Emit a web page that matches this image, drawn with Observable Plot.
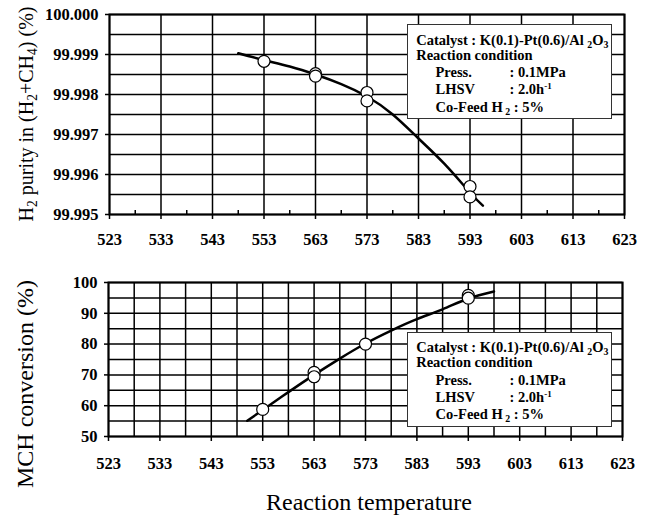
<!DOCTYPE html>
<html><head><meta charset="utf-8">
<script src="https://cdn.jsdelivr.net/npm/d3@7"></script>
<script src="https://cdn.jsdelivr.net/npm/@observablehq/plot@0.6"></script>
<style>
body{margin:0;background:#fff;}
#wrap{position:relative;width:652px;height:517px;overflow:hidden;font-family:"Liberation Serif","Times New Roman",serif;color:#000;}
#wrap svg{position:absolute;left:0;}
.legend{position:absolute;border:1.5px solid #333;background:#fff;box-sizing:border-box;font-weight:bold;font-size:14.5px;width:205px;height:95px;}
.legend .ln{position:absolute;white-space:nowrap;line-height:1;}
.legend .lab{display:inline-block;width:74px;}
.sub{position:relative;top:0.3em;font-size:0.68em;line-height:1;}
.sup{position:relative;top:-0.55em;font-size:0.62em;line-height:1;}
.ytitle{position:absolute;white-space:nowrap;line-height:1;transform:translate(-50%,-50%) rotate(-90deg);}
.xtitle{position:absolute;white-space:nowrap;line-height:1;font-size:24px;transform:translateX(-50%);}
</style>
</head><body>
<div id="wrap"></div>
<script>
// ---------- data ----------
const xMajor = [523, 533, 543, 553, 563, 573, 583, 593, 603, 613, 623];
const xMinor = [528, 538, 548, 558, 568, 578, 588, 598, 608, 618];
const xFine = [523, 528, 533, 538, 543, 548, 553, 558, 563, 568, 573, 578, 583, 588, 593, 598, 603, 608, 613, 618, 623];

// top panel: H2 purity
const yTopMajor = [99.995, 99.996, 99.997, 99.998, 99.999, 100.000];
const yTopGrid = [99.995, 99.9955, 99.996, 99.9965, 99.997, 99.9975, 99.998, 99.9985, 99.999, 99.9995, 100.000];
const tempTop = [553, 563, 563, 573, 573, 593, 593];
const purity = [99.99883, 99.99852, 99.99846, 99.99805, 99.99784, 99.99570, 99.99544];
const curveTopT = [548, 553, 558, 563, 568, 573, 578, 583, 588, 593, 595.5];
const curveTopV = [99.99903, 99.99886, 99.99870, 99.99850, 99.99826, 99.99795, 99.99750, 99.99690, 99.99627, 99.99555, 99.99522];

// bottom panel: MCH conversion
const yBotMajor = [50, 60, 70, 80, 90, 100];
const yBotGrid = [50, 55, 60, 65, 70, 75, 80, 85, 90, 95, 100];
const tempBot = [553, 563, 563, 573, 593, 593];
const conversion = [58.8, 70.8, 69.4, 80.0, 95.8, 94.9];
const curveBotT = [550, 553, 558, 563, 568, 573, 578, 583, 588, 593, 598];
const curveBotV = [55.1, 58.6, 64.4, 70.0, 75.3, 80.2, 84.4, 88.1, 91.3, 94.8, 97.1];

// ---------- build tables ----------
const ptsTop = tempTop.map((t, i) => ({t, v: purity[i]}));
const lineTop = curveTopT.map((t, i) => ({t, v: curveTopV[i]}));
const ptsBot = tempBot.map((t, i) => ({t, v: conversion[i]}));
const lineBot = curveBotT.map((t, i) => ({t, v: curveBotV[i]}));

const baseStyle = {fontFamily: "'Liberation Serif','Times New Roman',serif", fontSize: "16.5px", fontWeight: "bold", background: "transparent", overflow: "visible", color: "#000"};
const gridOpt = {stroke: "#000", strokeOpacity: 1, strokeWidth: 1.5};

const topPlot = Plot.plot({
  width: 652, height: 260,
  marginLeft: 109, marginRight: 28, marginTop: 14, marginBottom: 46,
  x: {domain: [523, 623], label: null},
  y: {domain: [99.995, 100.000], label: null},
  style: baseStyle,
  marks: [
    Plot.gridX(xMajor, gridOpt),
    Plot.gridY(yTopGrid, gridOpt),
    Plot.ruleX(xMinor, {y1: 99.995, y2: 99.9951, stroke: "#000", strokeWidth: 1.5}),
    Plot.axisX({ticks: xMajor, tickSize: 5, tickPadding: 14, tickFormat: d => String(d), strokeWidth: 1.5}),
    Plot.axisY({ticks: yTopMajor, tickSize: 4, tickPadding: 7, tickFormat: d3.format(".3f"), strokeWidth: 1.5}),
    Plot.frame({stroke: "#000", strokeWidth: 2}),
    Plot.line(lineTop, {x: "t", y: "v", curve: "natural", stroke: "#000", strokeWidth: 2.5}),
    Plot.dot(ptsTop, {x: "t", y: "v", r: 6, fill: "white", stroke: "#000", strokeWidth: 1.2})
  ]
});
topPlot.style.top = "0px";

const botPlot = Plot.plot({
  width: 652, height: 257,
  marginLeft: 108, marginRight: 30, marginTop: 22, marginBottom: 81,
  x: {domain: [523, 623], label: null},
  y: {domain: [50, 100], label: null},
  style: baseStyle,
  marks: [
    Plot.gridX(xFine, gridOpt),
    Plot.gridY(yBotGrid, gridOpt),
    Plot.axisX({ticks: xMajor, tickSize: 5, tickPadding: 16, tickFormat: d => String(d), strokeWidth: 1.5}),
    Plot.axisY({ticks: yBotMajor, tickSize: 4, tickPadding: 7, tickFormat: d => String(d), strokeWidth: 1.5}),
    Plot.frame({stroke: "#000", strokeWidth: 2}),
    Plot.line(lineBot, {x: "t", y: "v", curve: "natural", stroke: "#000", strokeWidth: 2.5}),
    Plot.dot(ptsBot, {x: "t", y: "v", r: 6, fill: "white", stroke: "#000", strokeWidth: 1.2})
  ]
});
botPlot.style.top = "260px";

const wrap = document.getElementById("wrap");
wrap.appendChild(topPlot);
wrap.appendChild(botPlot);

function legend(top) {
  const d = document.createElement("div");
  d.className = "legend";
  d.style.left = "406.7px";
  d.style.top = top + "px";
  d.innerHTML =
    '<div class="ln" style="left:8.5px;top:7.4px">Catalyst : K(0.1)-Pt(0.6)/Al <span class="sub">2</span>O<span class="sub">3</span></div>' +
    '<div class="ln" style="left:8.5px;top:22.4px">Reaction condition</div>' +
    '<div class="ln" style="left:27.8px;top:39.9px"><span class="lab">Press.</span>: 0.1MPa</div>' +
    '<div class="ln" style="left:27.8px;top:56.9px"><span class="lab">LHSV</span>: 2.0h<span class="sup">-1</span></div>' +
    '<div class="ln" style="left:27.8px;top:74.4px">Co-Feed H<span class="sub"> 2</span> : 5%</div>';
  wrap.appendChild(d);
}
legend(24.3);
legend(331.7);

const yt1 = document.createElement("div");
yt1.className = "ytitle";
yt1.style.cssText = "left:26.4px;top:113.5px;font-size:20px";
yt1.innerHTML = 'H<span class="sub">2</span> purity in (H<span class="sub">2</span>+CH<span class="sub">4</span>) (%)';
wrap.appendChild(yt1);

const yt2 = document.createElement("div");
yt2.className = "ytitle";
yt2.style.cssText = "left:25px;top:383.5px;font-size:24px";
yt2.textContent = "MCH conversion (%)";
wrap.appendChild(yt2);

const xt = document.createElement("div");
xt.className = "xtitle";
xt.style.cssText = "left:369px;top:490px";
xt.textContent = "Reaction temperature";
wrap.appendChild(xt);
</script>
</body></html>
